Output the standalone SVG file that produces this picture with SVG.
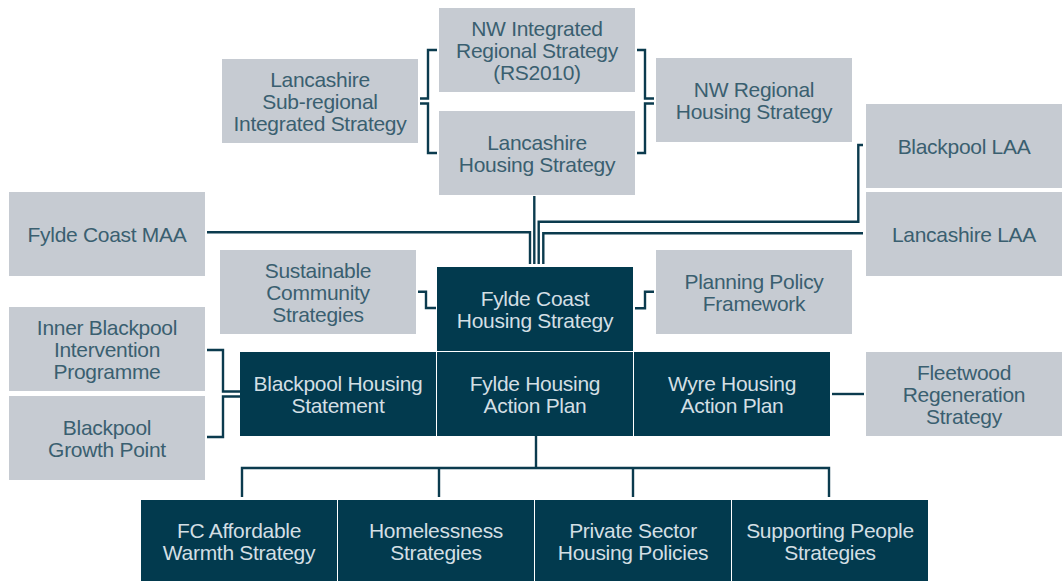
<svg xmlns="http://www.w3.org/2000/svg" width="1062" height="581" viewBox="0 0 1062 581">
  <style>
    .lt { fill: #c6cbd2; }
    .dk { fill: #023a4e; }
    text { font-family: "Liberation Sans", Arial, sans-serif; font-size: 21px; letter-spacing: -0.3px; text-anchor: middle; }
    .lt-t { fill: #3a5f70; }
    .dk-t { fill: #d3dfe4; }
    .ln { fill: none; stroke: #0b3b4e; stroke-width: 2.4; stroke-linejoin: miter; stroke-linecap: butt; }
  </style>
  <rect width="1062" height="581" fill="#ffffff"/>

  <!-- connectors -->
  <g id="connectors" class="ln">
    <!-- brackets joining the regional strategies -->
    <path d="M437,50 H428 V98.5 H420"/>
    <path d="M437,153 H428 V103.5 H420"/>
    <path d="M637,50 H645 V98.5 H654"/>
    <path d="M637,153 H645 V103.5 H654"/>
    <!-- feeds into Fylde Coast Housing Strategy -->
    <path d="M534.3,196 V264"/>
    <path d="M207,232.3 H530 V264"/>
    <path d="M863,145 H858.3 V221.7 H538.7 V264"/>
    <path d="M863,233.3 H543.3 V264"/>
    <path d="M418,291.7 H426 V308 H436"/>
    <path d="M635,308.3 H645 V291.7 H654"/>
    <!-- Blackpool bracket -->
    <path d="M207,350 H223 V391.5 H240"/>
    <path d="M240,396.5 H223 V437 H207"/>
    <!-- Fleetwood -->
    <path d="M832,394 H864"/>
    <!-- tree to delivery strategies -->
    <path d="M536,436 V468"/>
    <path d="M242,497 V468 H829 V497"/>
    <path d="M439,468 V497"/>
    <path d="M633,468 V497"/>
  </g>

  <g id="nw-integrated">
    <rect class="lt" x="439" y="8" width="196" height="84"/>
    <text class="lt-t" x="537" y="36">NW Integrated</text>
    <text class="lt-t" x="537" y="58">Regional Strategy</text>
    <text class="lt-t" x="537" y="80">(RS2010)</text>
  </g>
  <g id="lancashire-housing">
    <rect class="lt" x="439" y="111" width="196" height="84"/>
    <text class="lt-t" x="537" y="149.5">Lancashire</text>
    <text class="lt-t" x="537" y="171.5">Housing Strategy</text>
  </g>
  <g id="lancashire-subregional">
    <rect class="lt" x="222" y="59" width="196" height="84"/>
    <text class="lt-t" x="320" y="86.5">Lancashire</text>
    <text class="lt-t" x="320" y="108.5">Sub-regional</text>
    <text class="lt-t" x="320" y="130.5">Integrated Strategy</text>
  </g>
  <g id="nw-regional-housing">
    <rect class="lt" x="656" y="58" width="196" height="84"/>
    <text class="lt-t" x="754" y="96.5">NW Regional</text>
    <text class="lt-t" x="754" y="118.5">Housing Strategy</text>
  </g>
  <g id="blackpool-laa">
    <rect class="lt" x="866" y="104" width="196" height="84"/>
    <text class="lt-t" x="964" y="153.5">Blackpool LAA</text>
  </g>
  <g id="lancashire-laa">
    <rect class="lt" x="866" y="192" width="196" height="84"/>
    <text class="lt-t" x="964" y="241.5">Lancashire LAA</text>
  </g>
  <g id="fylde-coast-maa">
    <rect class="lt" x="9" y="192" width="196" height="84"/>
    <text class="lt-t" x="107" y="241.5">Fylde Coast MAA</text>
  </g>
  <g id="sustainable-community">
    <rect class="lt" x="220" y="250" width="196" height="84"/>
    <text class="lt-t" x="318" y="277.5">Sustainable</text>
    <text class="lt-t" x="318" y="299.5">Community</text>
    <text class="lt-t" x="318" y="321.5">Strategies</text>
  </g>
  <g id="fylde-coast-housing">
    <rect class="dk" x="437" y="267" width="196" height="84"/>
    <text class="dk-t" x="535" y="305.5">Fylde Coast</text>
    <text class="dk-t" x="535" y="327.5">Housing Strategy</text>
  </g>
  <g id="planning-policy">
    <rect class="lt" x="656" y="250" width="196" height="84"/>
    <text class="lt-t" x="754" y="288.5">Planning Policy</text>
    <text class="lt-t" x="754" y="310.5">Framework</text>
  </g>
  <g id="inner-blackpool">
    <rect class="lt" x="9" y="307" width="196" height="84"/>
    <text class="lt-t" x="107" y="334.5">Inner Blackpool</text>
    <text class="lt-t" x="107" y="356.5">Intervention</text>
    <text class="lt-t" x="107" y="378.5">Programme</text>
  </g>
  <g id="blackpool-growth">
    <rect class="lt" x="9" y="396" width="196" height="84"/>
    <text class="lt-t" x="107" y="434.5">Blackpool</text>
    <text class="lt-t" x="107" y="456.5">Growth Point</text>
  </g>
  <g id="blackpool-housing">
    <rect class="dk" x="240" y="352" width="196" height="84"/>
    <text class="dk-t" x="338" y="390.5">Blackpool Housing</text>
    <text class="dk-t" x="338" y="412.5">Statement</text>
  </g>
  <g id="fylde-housing">
    <rect class="dk" x="437" y="352" width="196" height="84"/>
    <text class="dk-t" x="535" y="390.5">Fylde Housing</text>
    <text class="dk-t" x="535" y="412.5">Action Plan</text>
  </g>
  <g id="wyre-housing">
    <rect class="dk" x="634" y="352" width="196" height="84"/>
    <text class="dk-t" x="732" y="390.5">Wyre Housing</text>
    <text class="dk-t" x="732" y="412.5">Action Plan</text>
  </g>
  <g id="fleetwood">
    <rect class="lt" x="866" y="352" width="196" height="84"/>
    <text class="lt-t" x="964" y="379.5">Fleetwood</text>
    <text class="lt-t" x="964" y="401.5">Regeneration</text>
    <text class="lt-t" x="964" y="423.5">Strategy</text>
  </g>
  <g id="fc-affordable-warmth">
    <rect class="dk" x="141" y="500" width="196" height="84"/>
    <text class="dk-t" x="239" y="537.5">FC Affordable</text>
    <text class="dk-t" x="239" y="559.5">Warmth Strategy</text>
  </g>
  <g id="homelessness">
    <rect class="dk" x="338" y="500" width="196" height="84"/>
    <text class="dk-t" x="436" y="537.5">Homelessness</text>
    <text class="dk-t" x="436" y="559.5">Strategies</text>
  </g>
  <g id="private-sector">
    <rect class="dk" x="535" y="500" width="196" height="84"/>
    <text class="dk-t" x="633" y="537.5">Private Sector</text>
    <text class="dk-t" x="633" y="559.5">Housing Policies</text>
  </g>
  <g id="supporting-people">
    <rect class="dk" x="732" y="500" width="196" height="84"/>
    <text class="dk-t" x="830" y="537.5">Supporting People</text>
    <text class="dk-t" x="830" y="559.5">Strategies</text>
  </g>
</svg>
